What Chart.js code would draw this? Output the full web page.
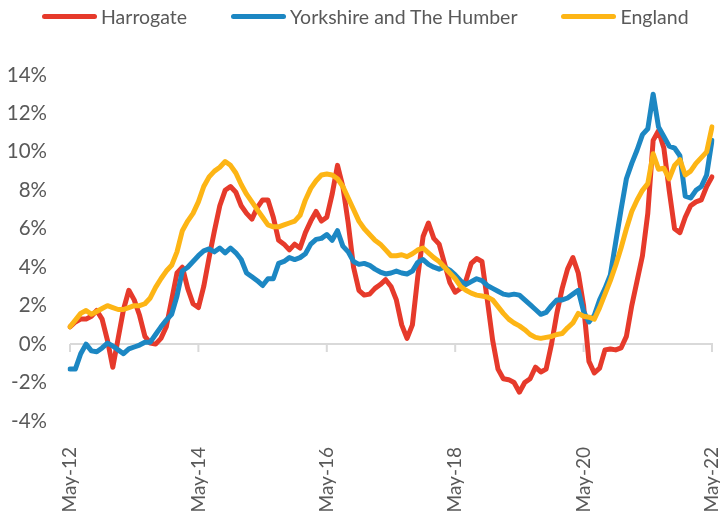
<!DOCTYPE html>
<html>
<head>
<meta charset="utf-8">
<title>House price change</title>
<script src="https://cdn.jsdelivr.net/npm/chart.js@4.4.1/dist/chart.umd.min.js"></script>
<style>
  html, body { margin: 0; padding: 0; background: #fff; }
  #wrap { position: relative; width: 720px; height: 513px; overflow: hidden; }
  #legend {
    position: absolute; top: 5px; left: 42px;
    display: flex; align-items: center; white-space: nowrap;
    font-family: Lato, sans-serif; font-size: 19.5px; color: #595959;
  }
  .item { display: flex; align-items: center; margin-right: 44px; }
  .swatch { width: 55px; height: 5px; border-radius: 3px; margin-right: 4px; }
</style>
</head>
<body>
<div id="wrap">
  <canvas id="chart" width="720" height="513"></canvas>
  <div id="legend"></div>
</div>
<script>
// Monthly categories, May-12 .. May-22
const monthNames = ['Jan', 'Feb', 'Mar', 'Apr', 'May', 'Jun', 'Jul', 'Aug', 'Sep', 'Oct', 'Nov', 'Dec'];
const labels = [];
for (let yr = 12; yr <= 22; yr++) {
    for (let m = 0; m < 12; m++) {
        if (yr === 12 && m < 4) continue;
        if (yr === 22 && m > 4) continue;
        labels.push(monthNames[m] + '-' + yr);
    }
}

// Tick labels shown on the x axis
const tickLabels = ['May-12', 'May-14', 'May-16', 'May-18', 'May-20', 'May-22'];

// Annual change, %
const harrogate = [
    0.9, 1.15, 1.3, 1.3, 1.45, 1.75, 1.3, 0.2, -1.2, 0.3,
    1.8, 2.8, 2.3, 1.5, 0.4, 0.05, 0.0, 0.3, 0.9, 2.3,
    3.7, 4.0, 2.9, 2.1, 1.9, 3.0, 4.5, 5.9, 7.2, 8.0,
    8.2, 7.9, 7.2, 6.8, 6.5, 7.1, 7.5, 7.5, 6.6, 5.4,
    5.2, 4.9, 5.2, 5.0, 5.8, 6.4, 6.9, 6.4, 6.6, 7.8,
    9.3, 8.2, 6.3, 4.0, 2.8, 2.55, 2.6, 2.9, 3.1, 3.35,
    3.0, 2.3, 1.0, 0.3, 1.0, 3.5, 5.6, 6.3, 5.5, 5.2,
    4.2, 3.2, 2.7, 2.9, 3.3, 4.2, 4.45, 4.3, 2.3, 0.2,
    -1.3, -1.8, -1.85, -2.0, -2.5, -2.0, -1.8, -1.2, -1.45, -1.3,
    0.0, 1.6, 2.9, 3.9, 4.5, 3.7, 2.0, -0.9, -1.5, -1.25,
    -0.3, -0.25, -0.3, -0.2, 0.4, 2.0, 3.3, 4.6, 6.8, 10.6,
    11.1, 10.2, 8.0, 6.0, 5.8, 6.6, 7.2, 7.4, 7.5, 8.2,
    8.7
];

const yorkshire = [
    -1.3, -1.3, -0.5, 0.0, -0.35, -0.4, -0.2, 0.05, -0.1, -0.3,
    -0.5, -0.25, -0.15, -0.05, 0.1, 0.1, 0.5, 0.9, 1.25, 1.55,
    2.5, 3.8, 4.0, 4.3, 4.6, 4.85, 4.95, 4.8, 5.0, 4.75,
    5.0, 4.75, 4.4, 3.7, 3.5, 3.3, 3.05, 3.4, 3.4, 4.2,
    4.3, 4.5, 4.4, 4.5, 4.7, 5.2, 5.45, 5.5, 5.7, 5.4,
    5.9, 5.1, 4.8, 4.3, 4.15, 4.2, 4.1, 3.9, 3.75, 3.65,
    3.7, 3.8, 3.7, 3.65, 3.8, 4.25, 4.4, 4.15, 4.0, 3.9,
    4.0, 3.85, 3.6, 3.3, 3.1, 3.25, 3.4, 3.3, 3.05, 2.9,
    2.75, 2.6, 2.55, 2.6, 2.55, 2.3, 2.05, 1.8, 1.55, 1.65,
    2.0, 2.3, 2.3, 2.4, 2.6, 2.8, 1.7, 1.15, 1.5, 2.3,
    2.9, 3.6, 5.3, 7.0, 8.6, 9.4, 10.1, 10.9, 11.2, 13.0,
    11.3, 10.8, 10.3, 10.2, 9.8, 7.7, 7.6, 8.0, 8.2, 8.8,
    10.6
];

const england = [
    0.9, 1.25, 1.6, 1.75, 1.55, 1.7, 1.85, 2.0, 1.9, 1.8,
    1.8, 1.9, 2.0, 2.0, 2.1, 2.4, 2.95, 3.4, 3.8, 4.1,
    4.8, 5.9, 6.4, 6.8, 7.4, 8.2, 8.7, 9.0, 9.2, 9.5,
    9.3, 8.9, 8.3, 7.8, 7.4, 7.0, 6.6, 6.2, 6.1, 6.1,
    6.2, 6.3, 6.4, 6.7, 7.5, 8.1, 8.5, 8.8, 8.85, 8.8,
    8.6, 8.2, 7.6, 7.0, 6.4, 6.0, 5.7, 5.4, 5.2, 4.9,
    4.6, 4.6, 4.65, 4.55, 4.7, 4.9, 5.0, 4.75, 4.5, 4.3,
    4.0, 3.7, 3.4, 3.0, 2.8, 2.65, 2.55, 2.5, 2.45, 2.3,
    1.95, 1.6, 1.3, 1.1, 0.95, 0.75, 0.5, 0.35, 0.3, 0.35,
    0.4, 0.5, 0.55, 0.85, 1.1, 1.6, 1.45, 1.4, 1.3, 1.9,
    2.6, 3.3, 4.1, 5.0, 6.0, 6.9, 7.5, 8.0, 8.35, 9.9,
    9.1, 9.15, 8.6, 9.3, 9.6, 8.8, 9.0, 9.4, 9.7, 10.0,
    11.3
];

const seriesNames = ['Harrogate', 'Yorkshire and The Humber', 'England'];
const seriesColors = ['#E63A2B', '#1C87C3', '#FDB515'];

const textColor = '#595959';
const fontFamily = 'Lato, sans-serif';

// Draws the 0% axis line with its tick marks, under the lines
const zeroAxisLine = {
    id: 'zeroAxisLine',
    beforeDatasetsDraw(chart) {
        const { ctx, scales: { x, y } } = chart;
        const y0 = y.getPixelForValue(0);
        ctx.save();
        ctx.strokeStyle = '#d9d9d9';
        ctx.lineWidth = 2;
        ctx.beginPath();
        ctx.moveTo(x.left, y0);
        ctx.lineTo(x.right + 1, y0);
        labels.forEach((label, i) => {
            if (tickLabels.includes(label)) {
                const px = x.getPixelForValue(i);
                ctx.moveTo(px, y0);
                ctx.lineTo(px, y0 + 8);
            }
        });
        ctx.stroke();
        ctx.restore();
    }
};

function buildLegend() {
    const legend = document.getElementById('legend');
    seriesNames.forEach((name, i) => {
        const item = document.createElement('div');
        item.className = 'item';
        const swatch = document.createElement('span');
        swatch.className = 'swatch';
        swatch.style.background = seriesColors[i];
        const text = document.createElement('span');
        text.textContent = name;
        item.appendChild(swatch);
        item.appendChild(text);
        legend.appendChild(item);
    });
}

function initChart() {
    const ctx = document.getElementById('chart').getContext('2d');
    const values = [harrogate, yorkshire, england];

    new Chart(ctx, {
        type: 'line',
        data: {
            labels: labels,
            datasets: values.map((data, i) => ({
                label: seriesNames[i],
                data: data,
                borderColor: seriesColors[i],
                backgroundColor: seriesColors[i],
                borderWidth: 5,
                borderJoinStyle: 'round',
                borderCapStyle: 'round',
                pointRadius: 0,
                tension: 0,
                order: 3 - i
            }))
        },
        options: {
            responsive: false,
            animation: false,
            layout: {
                padding: { top: 75, left: 0, right: 0, bottom: 0 }
            },
            plugins: {
                legend: { display: false },
                tooltip: { enabled: false }
            },
            scales: {
                x: {
                    grid: { display: false },
                    border: { display: false },
                    ticks: {
                        autoSkip: false,
                        maxRotation: 90,
                        minRotation: 90,
                        padding: 18,
                        color: textColor,
                        font: { family: fontFamily, size: 19 },
                        callback: function(value, index) {
                            const label = labels[index];
                            return tickLabels.includes(label) ? label : '';
                        }
                    },
                    afterFit: function(scale) {
                        scale.height = 92;
                        scale.paddingLeft = 0;
                        scale.paddingRight = 8;
                    }
                },
                y: {
                    min: -4,
                    max: 14,
                    grid: { display: false },
                    border: { display: false },
                    ticks: {
                        stepSize: 2,
                        padding: 15,
                        color: textColor,
                        font: { family: fontFamily, size: 20.5 },
                        callback: function(value) {
                            return value + '%';
                        }
                    },
                    afterFit: function(scale) {
                        scale.width = 70;
                        scale.paddingTop = 0;
                        scale.paddingBottom = 0;
                    }
                }
            }
        },
        plugins: [zeroAxisLine]
    });
}

buildLegend();
initChart();
</script>
</body>
</html>
